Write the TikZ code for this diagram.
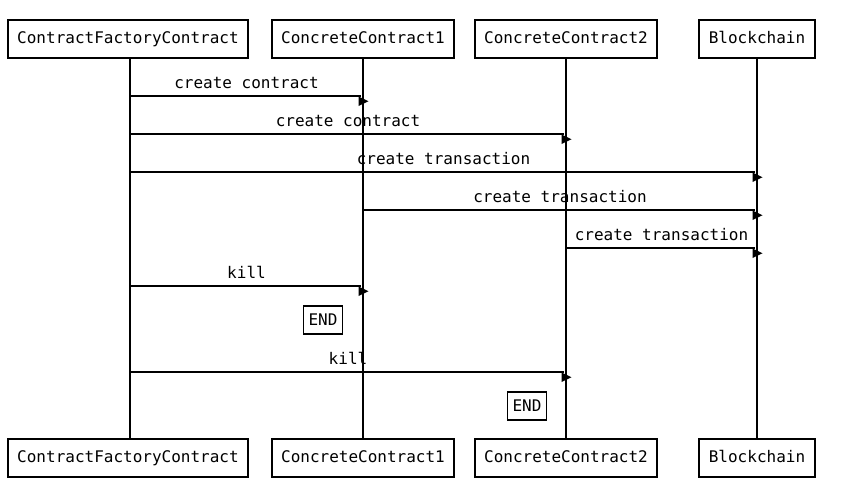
\documentclass[tikz,border=0pt]{standalone}
\usepackage{fontspec}
\setmonofont{DejaVu Sans Mono}
\begin{document}
\begin{tikzpicture}[x=1pt,y=-1pt,
  actor/.style={draw,line width=1.8pt,inner xsep=9.5pt,minimum height=38pt,text height=11.5pt,text depth=3pt,font=\ttfamily\fontsize{16}{19}\selectfont},
  life/.style={line width=1.8pt},
  msg/.style={line width=1.8pt},
  lbl/.style={font=\ttfamily\fontsize{16}{19}\selectfont,inner sep=0pt,text height=11.5pt,text depth=0pt},
  endbox/.style={draw,line width=1.8pt,inner xsep=5pt,minimum height=28pt,font=\ttfamily\fontsize{16}{19}\selectfont},
  tip/.style={fill=black}
]
\useasboundingbox (0,0) rectangle (846,498);
% actors top
\node[actor] (a1) at (128,39) {ContractFactoryContract};
\node[actor] (a2) at (363,39) {ConcreteContract1};
\node[actor] (a3) at (566,39) {ConcreteContract2};
\node[actor] (a4) at (757,39) {Blockchain};
% actors bottom
\node[actor] (b1) at (128,458) {ContractFactoryContract};
\node[actor] (b2) at (363,458) {ConcreteContract1};
\node[actor] (b3) at (566,458) {ConcreteContract2};
\node[actor] (b4) at (757,458) {Blockchain};
% lifelines
\draw[life] (130,0 |- a1.south) -- (130,0 |- b1.north);
\draw[life] (a2.south) -- (b2.north);
\draw[life] (a3.south) -- (b3.north);
\draw[life] (a4.south) -- (b4.north);
% message endpoints
\coordinate (m1s) at (130,96);  \coordinate (m1e) at (363,96);
\coordinate (m2s) at (130,134); \coordinate (m2e) at (566,134);
\coordinate (m3s) at (130,172); \coordinate (m3e) at (757,172);
\coordinate (m4s) at (363,210); \coordinate (m4e) at (757,210);
\coordinate (m5s) at (566,248); \coordinate (m5e) at (757,248);
\coordinate (m6s) at (130,286); \coordinate (m6e) at (363,286);
\coordinate (m8s) at (130,372); \coordinate (m8e) at (566,372);
% messages
\draw[msg] (m1s) -- ([xshift=-2pt]m1e) node[lbl,midway,yshift=13pt,xshift=1pt] {create contract};
\draw[msg] (m2s) -- ([xshift=-2pt]m2e) node[lbl,midway,yshift=13pt,xshift=1pt] {create contract};
\draw[msg] (m3s) -- ([xshift=-2pt]m3e) node[lbl,midway,yshift=13pt,xshift=1pt] {create transaction};
\draw[msg] (m4s) -- ([xshift=-2pt]m4e) node[lbl,midway,yshift=13pt,xshift=1pt] {create transaction};
\draw[msg] (m5s) -- ([xshift=-2pt]m5e) node[lbl,midway,yshift=13pt,xshift=1pt] {create transaction};
\draw[msg] (m6s) -- ([xshift=-2pt]m6e) node[lbl,midway,yshift=13pt,xshift=1pt] {kill};
\draw[msg] (m8s) -- ([xshift=-2pt]m8e) node[lbl,midway,yshift=13pt,xshift=1pt] {kill};
% arrow heads (offset below the line)
\foreach \p in {m1e,m2e,m3e,m4e,m5e,m6e,m8e}{
  \fill[tip] ([shift={(-4.5,0.5)}]\p) -- ++(0,9.5) -- ++(10,-4.75) -- cycle;
}
% END boxes
\node[endbox] (e1) at (323,320) {END};
\node[endbox] (e2) at (527,406) {END};
\end{tikzpicture}
\end{document}
